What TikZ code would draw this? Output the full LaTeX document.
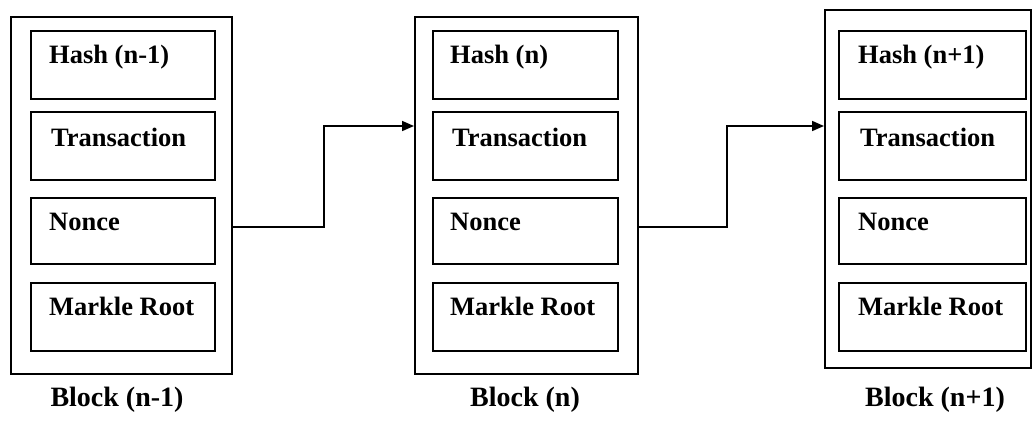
\documentclass[tikz,border=0pt]{standalone}
\usepackage{fontspec}
\setmainfont{Liberation Serif}
\usetikzlibrary{calc,arrows.meta}
\begin{document}
\begin{tikzpicture}[x=1pt,y=-1pt,
  outer/.style={draw=black,line width=1.7pt,anchor=north west,inner sep=0pt},
  cell/.style={draw=black,line width=1.7pt,anchor=north west,inner sep=0pt},
  txt/.style={anchor=base west,inner sep=0pt,font=\fontsize{26.5}{30}\selectfont\bfseries},
  blocklabel/.style={anchor=base,inner sep=0pt,font=\fontsize{28}{32}\selectfont\bfseries},
  arr/.style={draw=black,line width=1.7pt,-{Triangle[length=12pt,width=10pt]}}]
\path[use as bounding box] (0,0) rectangle (1036,421);
% block 1
\node[outer,minimum width=221pt,minimum height=357pt] (b1) at (10,16) {};
\node[cell,minimum width=184pt,minimum height=68pt] (h1) at (30,30) {};
\node[cell,minimum width=184pt,minimum height=68pt] (t1) at (30,111) {};
\node[cell,minimum width=184pt,minimum height=66pt] (n1) at (30,197) {};
\node[cell,minimum width=184pt,minimum height=68pt] (m1) at (30,282) {};
\node[txt] (h1t) at ($(h1.north west)+(19,33)$) {Hash (n-1)};
\node[txt] (t1t) at ($(t1.north west)+(21,35)$) {Transaction};
\node[txt] (n1t) at ($(n1.north west)+(19,33)$) {Nonce};
\node[txt] (m1t) at ($(m1.north west)+(19,33)$) {Markle Root};
\node[blocklabel] (c1) at (117,406) {Block (n-1)};
% block 2
\node[outer,minimum width=223pt,minimum height=357pt] (b2) at (414,16) {};
\node[cell,minimum width=185pt,minimum height=68pt] (h2) at (432,30) {};
\node[cell,minimum width=185pt,minimum height=68pt] (t2) at (432,111) {};
\node[cell,minimum width=185pt,minimum height=66pt] (n2) at (432,197) {};
\node[cell,minimum width=185pt,minimum height=68pt] (m2) at (432,282) {};
\node[txt] (h2t) at ($(h2.north west)+(18,33)$) {Hash (n)};
\node[txt] (t2t) at ($(t2.north west)+(20,35)$) {Transaction};
\node[txt] (n2t) at ($(n2.north west)+(18,33)$) {Nonce};
\node[txt] (m2t) at ($(m2.north west)+(18,33)$) {Markle Root};
\node[blocklabel] (c2) at (525,406) {Block (n)};
% block 3
\node[outer,minimum width=206pt,minimum height=358pt] (b3) at (824,9) {};
\node[cell,minimum width=187pt,minimum height=68pt] (h3) at (838,30) {};
\node[cell,minimum width=187pt,minimum height=68pt] (t3) at (838,111) {};
\node[cell,minimum width=187pt,minimum height=66pt] (n3) at (838,197) {};
\node[cell,minimum width=187pt,minimum height=68pt] (m3) at (838,282) {};
\node[txt] (h3t) at ($(h3.north west)+(20,33)$) {Hash (n+1)};
\node[txt] (t3t) at ($(t3.north west)+(22,35)$) {Transaction};
\node[txt] (n3t) at ($(n3.north west)+(20,33)$) {Nonce};
\node[txt] (m3t) at ($(m3.north west)+(20,33)$) {Markle Root};
\node[blocklabel] (c3) at (935,406) {Block (n+1)};
% connectors
\draw[arr] (b1.east |- 0,227) -- (324,227) -- (324,126) -- (b2.west |- 0,126);
\draw[arr] (b2.east |- 0,227) -- (727,227) -- (727,126) -- (b3.west |- 0,126);
\end{tikzpicture}
\end{document}
